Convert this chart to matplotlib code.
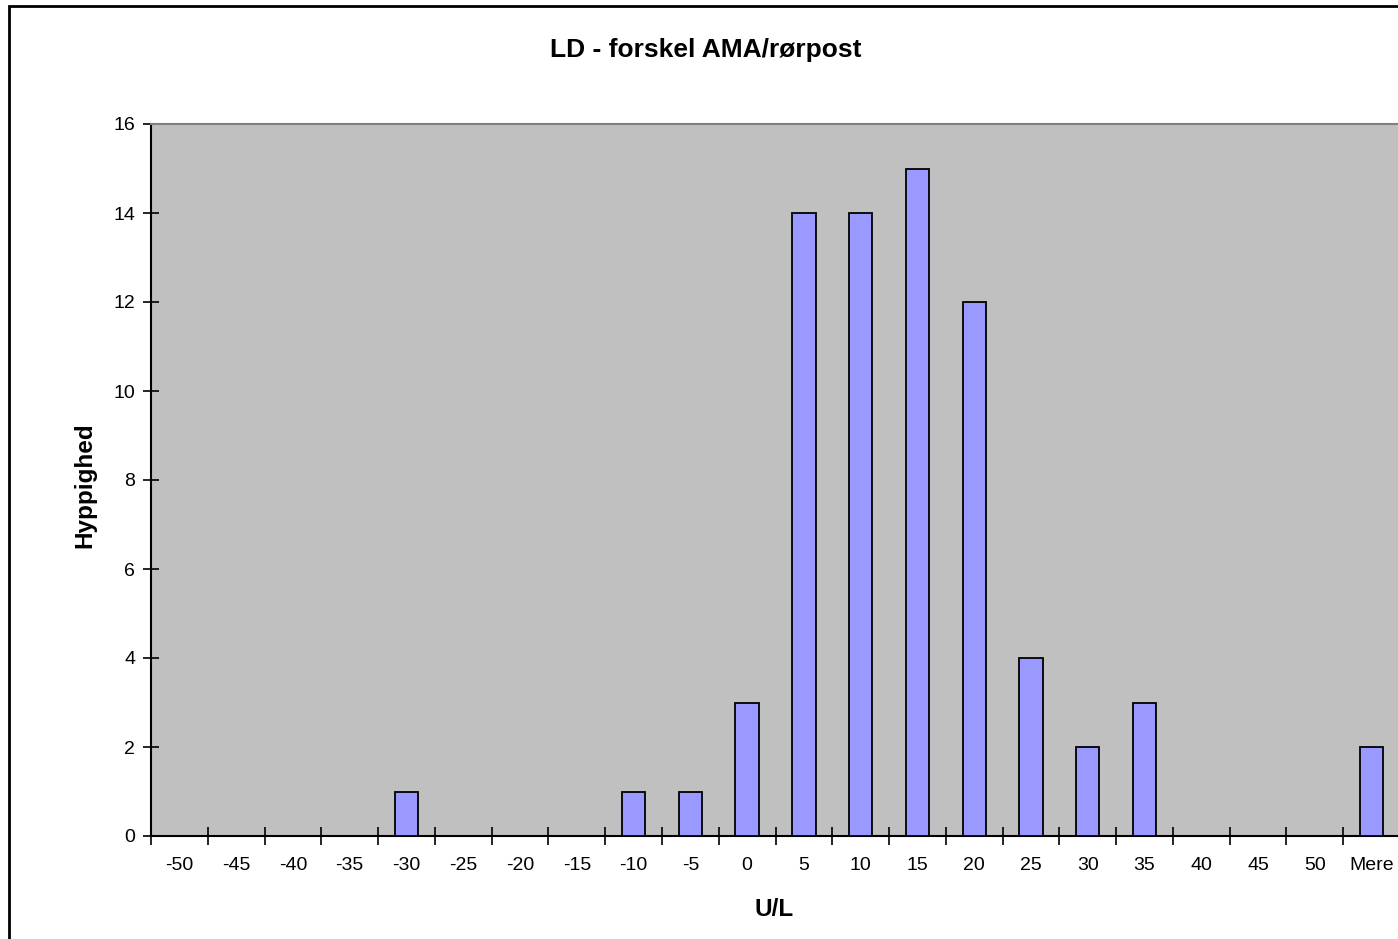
import matplotlib
matplotlib.use("Agg")
import matplotlib.pyplot as plt
from matplotlib.patches import Rectangle

# histogram bins and counts
bins = ["-50", "-45", "-40", "-35", "-30", "-25", "-20", "-15", "-10", "-5", "0",
        "5", "10", "15", "20", "25", "30", "35", "40", "45", "50", "Mere"]
counts = [0, 0, 0, 0, 1, 0, 0, 0, 1, 1, 3, 14, 14, 15, 12, 4, 2, 3, 0, 0, 0, 2]

W, H = 1398, 939
fig = plt.figure(figsize=(W / 100, H / 100), dpi=100)
plt.rcParams["font.family"] = ["Liberation Sans", "DejaVu Sans"]

# outer chart border (right/bottom run off the picture)
fig.patches.append(Rectangle((9 / W, -0.05), 1.1, 1 - 6 / H + 0.05, transform=fig.transFigure,
                             fill=False, edgecolor="black", linewidth=2))

ax = fig.add_axes([151 / W, 1 - 836 / H, (1400 - 151) / W, (836 - 124) / H])
ax.set_facecolor("#C0C0C0")

x = list(range(len(bins)))
ax.bar(x, counts, width=0.41, color="#9999FF", edgecolor="black", linewidth=1.3, zorder=3)

ax.set_xlim(-0.5, len(bins) - 0.5)
ax.set_ylim(0, 16)
ax.set_yticks(range(0, 17, 2))
ax.set_xticks([i + 0.5 for i in range(-1, len(bins) - 1)], minor=False)
ax.set_xticklabels([])
ax.set_xticks(x, minor=True)
ax.set_xticklabels(bins, minor=True)
ax.tick_params(axis="x", which="major", direction="inout", length=13, width=1.2)
ax.tick_params(axis="x", which="minor", length=0, pad=15, labelsize=14)
ax.tick_params(axis="y", direction="inout", length=11, width=1.2, labelsize=14, pad=6)

for s in ["left", "bottom"]:
    ax.spines[s].set_linewidth(1.5)
    ax.spines[s].set_color("black")
ax.spines["top"].set_color("#808080")
ax.spines["top"].set_linewidth(1.5)
ax.spines["right"].set_visible(False)

fig.text(774 / W, 1 - 910 / H, "U/L", ha="center", va="center", fontsize=17.5, fontweight="bold")
fig.text(85 / W, 1 - 485 / H, "Hyppighed", ha="center", va="center", rotation=90,
         fontsize=17.5, fontweight="bold")
fig.text(706 / W, 1 - 50 / H, "LD - forskel AMA/rørpost", ha="center", va="center",
         fontsize=19, fontweight="bold")

fig.savefig("out.png", dpi=100)
